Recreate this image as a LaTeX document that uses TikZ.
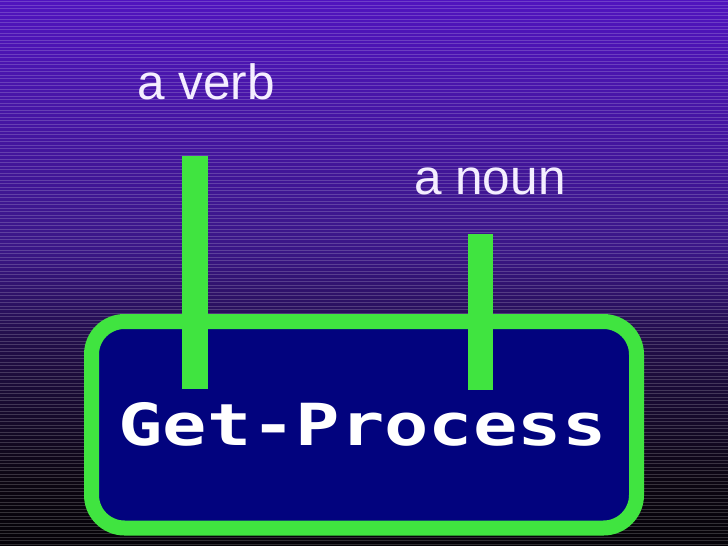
\documentclass[tikz,border=0pt]{standalone}
\usepackage{fontspec}
\usepackage{graphicx}
\setmainfont{Liberation Sans}
\newfontfamily\codefont{DejaVu Sans Mono}
\definecolor{bgtop}{RGB}{80,20,190}
\definecolor{bgmidA}{RGB}{58,22,134}
\definecolor{bgmidB}{RGB}{34,14,74}
\definecolor{bgmidC}{RGB}{12,6,18}
\definecolor{bgbot}{RGB}{5,3,8}
\definecolor{psgreen}{RGB}{64,228,64}
\definecolor{psnavy}{RGB}{2,3,126}
\definecolor{labelc}{RGB}{244,238,255}
\pgfdeclareverticalshading{bgshade}{100bp}{color(0bp)=(bgbot); color(25bp)=(bgbot); color(31bp)=(bgmidC); color(44bp)=(bgmidB); color(52bp)=(bgmidA); color(75bp)=(bgtop); color(100bp)=(bgtop)}
\tikzset{
  cmdbox/.style={draw=psgreen, line width=15pt, fill=psnavy, rounded corners=33pt, inner sep=0pt, outer sep=0pt},
  greenbar/.style={fill=psgreen, draw=none, inner sep=0pt, outer sep=0pt},
  partlabel/.style={text=labelc, inner sep=0pt, anchor=base west, font=\fontsize{49.5pt}{52pt}\selectfont},
  cmdtext/.style={text=white, inner sep=0pt, anchor=base, font=\codefont\bfseries\fontsize{58pt}{60pt}\selectfont}
}
\begin{document}
\begin{tikzpicture}[x=1pt,y=-1pt]
\useasboundingbox (0,0) rectangle (728,546);
\shade[shading=bgshade] (0,0) rectangle (728,546);
\foreach \k in {0,...,156} {
  \fill[white, opacity=0.18] (0,{\k*3.5+1}) rectangle (728,{\k*3.5+2.4});
}
\node[cmdbox, minimum width=545pt, minimum height=206.5pt] (box) at (364,424.75) {};
\node[greenbar, minimum width=26pt, minimum height=233pt] (verbbar) at (195,272.5) {};
\node[greenbar, minimum width=25pt, minimum height=156pt] (nounbar) at (480.5,312) {};
\node[cmdtext] (cmd) at (362.5,445) {\scalebox{1.27}[1]{Get-Process}};
\node[partlabel] (verb) at (137,99) {a verb};
\node[partlabel] (noun) at (414,194) {a noun};
\end{tikzpicture}
\end{document}
